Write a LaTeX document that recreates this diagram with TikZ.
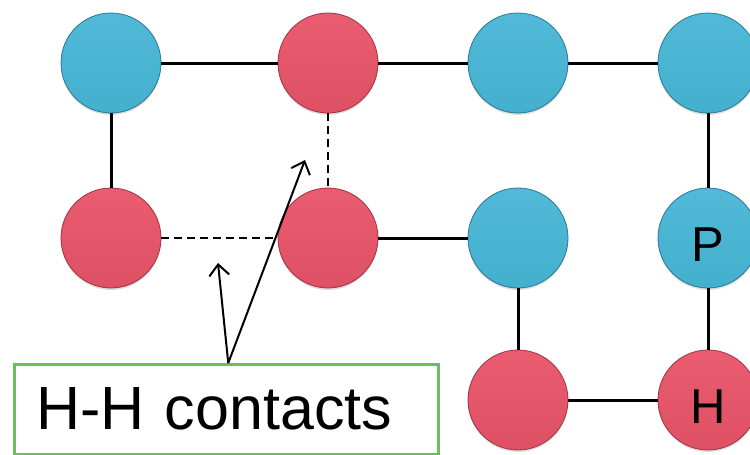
\documentclass[tikz,border=0pt]{standalone}
\usepackage{fontspec}
\setmainfont{Liberation Sans}
\usetikzlibrary{arrows.meta,shadows}
\definecolor{pblue}{RGB}{68,176,206}
\definecolor{pbluedark}{RGB}{42,120,148}
\definecolor{pbluelight}{RGB}{80,186,216}
\definecolor{hred}{RGB}{222,80,100}
\definecolor{hreddark}{RGB}{160,50,66}
\definecolor{hredlight}{RGB}{234,92,112}
\definecolor{boxgreen}{RGB}{108,190,92}
\tikzset{
  bead/.style={circle, minimum size=100pt, inner sep=0pt, line width=0.8pt,
    font=\fontsize{49}{49}\selectfont, text height=47pt, text depth=0pt,
    drop shadow={opacity=0.25, shadow xshift=0pt, shadow yshift=-2pt}},
  polar/.style={bead, draw=pbluedark, top color=pbluelight, bottom color=pblue},
  hydro/.style={bead, draw=hreddark, top color=hredlight, bottom color=hred},
  bond/.style={line width=3pt, black},
  contact/.style={line width=2.5pt, black, dash pattern=on 8pt off 5pt},
  pointer/.style={line width=2pt, black, -{Straight Barb[length=11pt, width=20pt, line width=2pt]}}
}
\begin{document}
\begin{tikzpicture}[x=1pt, y=-1pt]
\useasboundingbox (0,0) rectangle (750,455);
\clip (0,0) rectangle (750,455);
\fill[white] (0,0) rectangle (750,455);

% chain beads
\node[polar] (b1) at (111,63) {};
\node[hydro] (b2) at (328,63) {};
\node[polar] (b3) at (518,63) {};
\node[polar] (b4) at (708,63) {};
\node[hydro] (b5) at (111,238) {};
\node[hydro] (b6) at (328,238) {};
\node[polar] (b7) at (518,238) {};
\node[polar] (b8) at (708,238) {P};
\node[hydro] (b9) at (518,400) {};
\node[hydro] (b10) at (708,400) {H};

% chain bonds
\draw[bond] (b1) -- (b2);
\draw[bond] (b2) -- (b3);
\draw[bond] (b3) -- (b4);
\draw[bond] (b1) -- (b5);
\draw[bond] (b6) -- (b7);
\draw[bond] (b7) -- (b9);
\draw[bond] (b9) -- (b10);
\draw[bond] (b4) -- (b8);
\draw[bond] (b8) -- (b10);

% non-bonded H-H contacts
\draw[contact] (b5) -- (b6);
\draw[contact] (b2) -- (b6);

% caption box
\node[draw=boxgreen, line width=2.5pt, fill=white, anchor=north west,
      minimum height=90pt, text width=380pt, inner xsep=22pt, inner ysep=0pt,
      align=left, font=\fontsize{61}{61}\selectfont]
  (cap) at (13,363) {H-H contacts};

\coordinate (t1) at (218,263);
\coordinate (t2) at (305,160);
\draw[pointer] ([xshift=2pt]cap.north) -- (t1);
\draw[pointer] ([xshift=2pt]cap.north) -- (t2);
\end{tikzpicture}
\end{document}
